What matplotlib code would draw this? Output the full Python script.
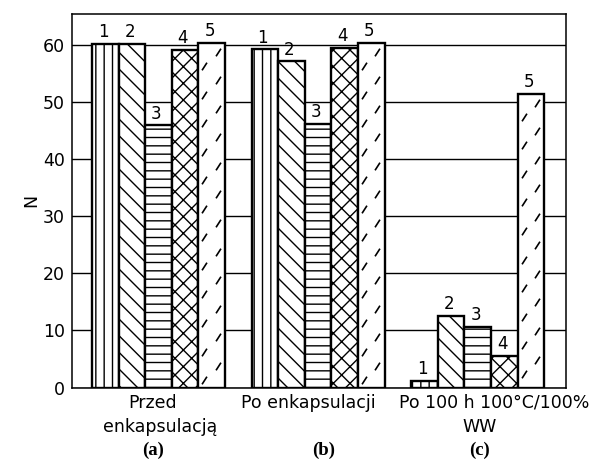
import matplotlib.pyplot as plt
import numpy as np
from matplotlib.path import Path

# data
panels = ['(a)', '(b)', '(c)']
group_text = [['Przed', 'enkapsulacją'], ['Po enkapsulacji'],
              ['Po 100 h 100°C/100%', 'WW']]
bar_ids = ['1', '2', '3', '4', '5']
przed = [60.1, 60.1, 45.9, 59.1, 60.3]
po_enkaps = [59.2, 57.1, 46.1, 59.4, 60.3]
po_100h = [1.2, 12.5, 10.6, 5.5, 51.4]
yticks = [0, 10, 20, 30, 40, 50, 60]

hatches = ['||', '\\\\', '--', 'xx', None]

plt.rcParams['hatch.linewidth'] = 1.0
plt.rcParams['font.family'] = 'DejaVu Sans'

fig = plt.figure(figsize=(5.92, 4.61), dpi=100)
ax = fig.add_axes([72 / 592, 73.5 / 461, 494 / 592, 373.5 / 461])

values = np.array([przed, po_enkaps, po_100h])
starts = np.arange(len(panels)) * 6.0
dash = Path([(-0.45, -0.7), (0.45, 0.7)], [Path.MOVETO, Path.LINETO])

for g, row in enumerate(values):
    xs = starts[g] + np.arange(len(row)) + 0.5
    rects = ax.bar(xs, row, width=1.0, color='white', edgecolor='black',
                   linewidth=1.7, zorder=2)
    for rect, h in zip(rects, hatches):
        if h:
            rect.set_hatch(h)
    for rect, lab in zip(rects, bar_ids):
        ax.annotate(lab, (rect.get_x() + rect.get_width() / 2, rect.get_height()),
                    xytext=(-1.5, 2), textcoords='offset points',
                    ha='center', va='bottom', fontsize=12)

    # glass-like short dashes on bar 5
    x5, top = xs[4], row[4]
    yr = np.arange(top - 1.5, 1.0, -5.0)
    yl = np.arange(top - 4.0, 1.0, -5.0)
    for xx, yy in ((x5 + 0.22, yr), (x5 - 0.27, yl)):
        ax.plot(np.full(len(yy), xx), yy, ls='none', marker=dash, ms=5.5,
                mec='black', mew=1.2, zorder=3)

# text under each group
line_off = [-11, -28.5]
text_dx = [[-4, 1], [-7], [12, 1.5]]
panel_dx = [-4, 4, 1.5]
for g in range(len(panels)):
    xc = starts[g] + 2.5
    for k, txt in enumerate(group_text[g]):
        ax.annotate(txt, (xc, 0), xycoords=ax.get_xaxis_transform(),
                    xytext=(text_dx[g][k], line_off[k]), textcoords='offset points',
                    ha='center', va='center', fontsize=12.5, annotation_clip=False)
    ax.annotate(panels[g], (xc, 0), xycoords=ax.get_xaxis_transform(),
                xytext=(panel_dx[g], -45), textcoords='offset points',
                ha='center', va='center', fontsize=13.5, family='Liberation Serif',
                fontweight='bold', annotation_clip=False)

ax.set_xlim(-0.75, 17.82)
ax.set_ylim(0, 65.4)
ax.set_yticks(yticks)
ax.set_xticks([])
ax.tick_params(axis='y', length=0, pad=5, labelsize=12.5)
ax.set_axisbelow(True)
ax.yaxis.grid(True, color='black', linewidth=1.0)
for sp in ax.spines.values():
    sp.set_linewidth(1.1)

ax.set_ylabel('N', fontsize=12.5)
ax.yaxis.set_label_coords(-0.065, 0.5)

fig.savefig('out.png', dpi=100)
